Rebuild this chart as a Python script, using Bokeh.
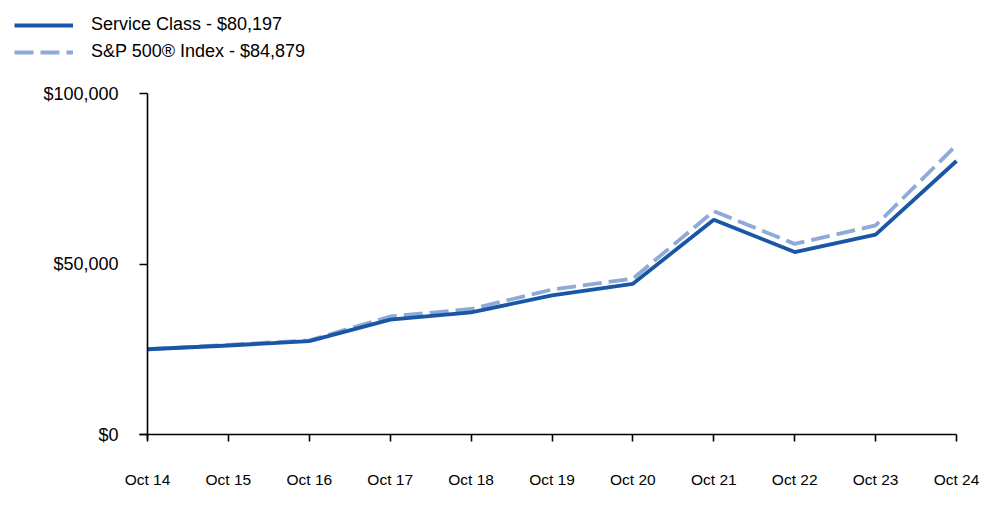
from bokeh.plotting import figure
from bokeh.models import Range1d, FixedTicker, Legend, LegendItem, ColumnDataSource
from bokeh.embed import file_html
from bokeh.resources import INLINE

labels = ["Oct 14", "Oct 15", "Oct 16", "Oct 17", "Oct 18", "Oct 19",
          "Oct 20", "Oct 21", "Oct 22", "Oct 23", "Oct 24"]
service = [25000, 26100, 27400, 33700, 35800, 40800, 44200, 63000, 53500, 58600, 80197]
sp500 = [25000, 26300, 27600, 34600, 36800, 42500, 45700, 65500, 55900, 61300, 84879]
y_ticks = [0, 50000, 100000]
y_tick_labels = ["$0", "$50,000", "$100,000"]
legend_labels = ["Service Class - $80,197", "S&P 500® Index - $84,879"]

FONT = "Liberation Sans"
C_SERVICE = "#1a56a6"
C_SP = "#8eaad6"
DASH = "19 7"
LW = 3.8

# canvas / plot-area geometry in pixels
W, H = 992, 515
LEFT, RIGHT, TOP, BOTTOM = 147, 956, 93, 434

n = len(labels)
ymax = y_ticks[-1]
xppu = (RIGHT - LEFT) / (n - 1)
yppu = (BOTTOM - TOP) / ymax
x_range = Range1d(-LEFT / xppu, (n - 1) + (W - RIGHT) / xppu)
y_range = Range1d(-(H - BOTTOM) / yppu, ymax + TOP / yppu)

xs = list(range(n))
src = ColumnDataSource(dict(x=xs, service=service, sp500=sp500))

p = figure(width=W, height=H, output_backend="svg", toolbar_location=None,
           x_range=x_range, y_range=y_range,
           min_border=0, min_border_left=0, min_border_right=0,
           min_border_top=0, min_border_bottom=0)
p.outline_line_color = None
p.grid.grid_line_color = None

r_sp = p.line("x", "sp500", source=src, line_color=C_SP, line_width=LW, line_dash=DASH)
r_sv = p.line("x", "service", source=src, line_color=C_SERVICE, line_width=LW)

p.xaxis.ticker = FixedTicker(ticks=xs)
p.xaxis.major_label_overrides = {i: l for i, l in enumerate(labels)}
p.xaxis.fixed_location = 0
p.xaxis.bounds = (-8 / xppu, n - 1)
p.yaxis.ticker = FixedTicker(ticks=y_ticks)
p.yaxis.major_label_overrides = {t: l for t, l in zip(y_ticks, y_tick_labels)}
p.yaxis.fixed_location = 0
p.yaxis.bounds = (-5 / yppu, ymax)

for ax in (p.xaxis, p.yaxis):
    ax.axis_line_color = "black"
    ax.axis_line_width = 1.6
    ax.major_tick_line_color = "black"
    ax.major_tick_line_width = 1.6
    ax.major_tick_in = 0
    ax.minor_tick_line_color = None
    ax.major_label_text_font = FONT
    ax.major_label_text_color = "black"

p.xaxis.major_tick_out = 7
p.xaxis.major_label_standoff = 29
p.xaxis.major_label_text_font_size = "15.5px"
p.yaxis.major_tick_out = 8
p.yaxis.major_label_standoff = 21
p.yaxis.major_label_text_font_size = "18px"

legend = Legend(items=[LegendItem(label=legend_labels[0], renderers=[r_sv]),
                       LegendItem(label=legend_labels[1], renderers=[r_sp])],
                location=(14, H - 62), orientation="vertical",
                glyph_width=59, glyph_height=20, label_height=20, label_standoff=18,
                spacing=6, padding=0, margin=0, border_line_color=None,
                background_fill_alpha=0,
                label_text_font=FONT, label_text_font_size="18px", label_text_color="black")
p.add_layout(legend, "center")

open("out.html", "w").write(file_html(p, INLINE))
